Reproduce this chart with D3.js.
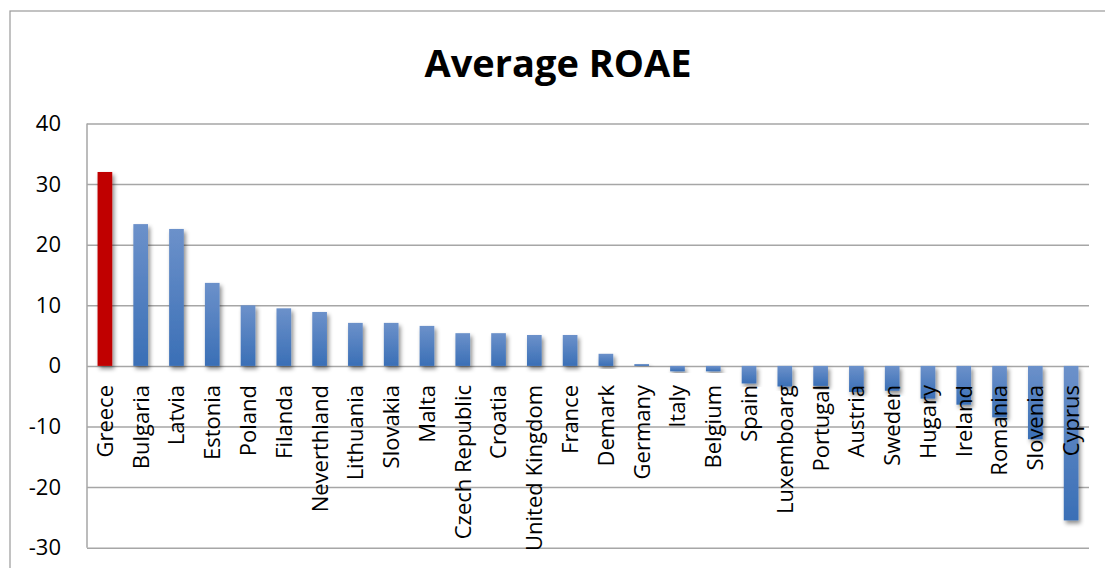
<!DOCTYPE html>
<html>
<head>
<meta charset="utf-8">
<script src="https://cdn.jsdelivr.net/npm/d3@7"></script>
<style>
  html, body { margin: 0; padding: 0; background: #fff; overflow: hidden; }
  svg { display: block; font-family: "Open Sans", "DejaVu Sans", sans-serif; }
</style>
</head>
<body>
<svg id="chart" width="1105" height="568"></svg>
<script>
// Average return on average equity by country
const countries = ["Greece", "Bulgaria", "Latvia", "Estonia", "Poland", "Filanda", "Neverthland",
  "Lithuania", "Slovakia", "Malta", "Czech Republic", "Croatia", "United Kingdom", "France",
  "Demark", "Germany", "Italy", "Belgium", "Spain", "Luxemboarg", "Portugal", "Austria",
  "Sweden", "Hugary", "Ireland", "Romania", "Slovenia", "Cyprus"];
const roae = [32.0, 23.4, 22.6, 13.7, 10.0, 9.5, 8.9, 7.1, 7.1, 6.6, 5.4, 5.4, 5.1, 5.1,
  2.0, 0.3, -0.9, -0.9, -2.9, -3.4, -3.3, -4.3, -4.1, -5.4, -6.4, -8.5, -12.1, -25.5];
const yTicks = [-30, -20, -10, 0, 10, 20, 30, 40];
const highlighted = "Greece";

const svg = d3.select("#chart");

// Outer chart frame
svg.append("rect")
  .attr("x", 10).attr("y", 11)
  .attr("width", 1200).attr("height", 700)
  .attr("fill", "#fff")
  .attr("stroke", "#9a9a9a").attr("stroke-width", 1.2);

const defs = svg.append("defs");
const grad = defs.append("linearGradient")
  .attr("id", "barBlue").attr("x1", 0).attr("y1", 0).attr("x2", 0).attr("y2", 1);
grad.append("stop").attr("offset", "0%").attr("stop-color", "#6c91ca");
grad.append("stop").attr("offset", "100%").attr("stop-color", "#3a6fb6");

const shadow = defs.append("filter").attr("id", "barShadow")
  .attr("x", "-50%").attr("y", "-20%").attr("width", "200%").attr("height", "140%");
shadow.append("feDropShadow")
  .attr("dx", 2).attr("dy", 3).attr("stdDeviation", 2.2)
  .attr("flood-color", "#000").attr("flood-opacity", 0.45);

const plot = { left: 87, right: 1089, top: 123.5, bottom: 547.7 };

const x = d3.scaleBand()
  .domain(countries)
  .range([plot.left, plot.right])
  .paddingInner(0.59)
  .paddingOuter(0.295);

const y = d3.scaleLinear()
  .domain([-30, 40])
  .range([plot.bottom, plot.top]);

// Horizontal gridlines
svg.append("g")
  .attr("transform", `translate(${plot.left},0)`)
  .call(d3.axisLeft(y).tickValues(yTicks).tickSize(-(plot.right - plot.left)).tickFormat(""))
  .call(g => g.select(".domain").remove())
  .call(g => g.selectAll("line").attr("stroke", "#a6a6a6").attr("stroke-width", 1.5));

// Vertical axis line
svg.append("line")
  .attr("x1", plot.left).attr("x2", plot.left)
  .attr("y1", plot.top).attr("y2", plot.bottom)
  .attr("stroke", "#a6a6a6").attr("stroke-width", 1.5);

// Tick labels (plain hyphen for negatives)
svg.append("g")
  .attr("transform", `translate(${plot.left},0)`)
  .call(d3.axisLeft(y).tickValues(yTicks).tickSize(0).tickPadding(26).tickFormat(d => String(d)))
  .call(g => g.select(".domain").remove())
  .call(g => g.selectAll("text")
    .attr("fill", "#000")
    .style("font-size", "22px")
    .style("font-family", "'Open Sans', sans-serif"));

// Bars
svg.append("g")
  .selectAll("rect")
  .data(countries.map((c, i) => ({ country: c, value: roae[i] })))
  .join("rect")
  .attr("x", d => x(d.country))
  .attr("width", x.bandwidth())
  .attr("y", d => y(Math.max(0, d.value)))
  .attr("height", d => Math.abs(y(d.value) - y(0)))
  .attr("fill", d => d.country === highlighted ? "#c00000" : "url(#barBlue)")
  .attr("filter", "url(#barShadow)");

// Category labels, rotated, just below the zero line
svg.append("g")
  .selectAll("text")
  .data(countries)
  .join("text")
  .attr("transform", d => `translate(${x(d) + x.bandwidth() / 2},385) rotate(-90)`)
  .attr("text-anchor", "end")
  .attr("dy", "0.36em")
  .attr("fill", "#000")
  .style("font-size", "22px")
  .text(d => d);

// Title
svg.append("text")
  .attr("x", 558).attr("y", 77)
  .attr("text-anchor", "middle")
  .attr("fill", "#000")
  .style("font-size", "38px")
  .style("font-weight", "bold")
  .text("Average ROAE");
</script>
</body>
</html>
